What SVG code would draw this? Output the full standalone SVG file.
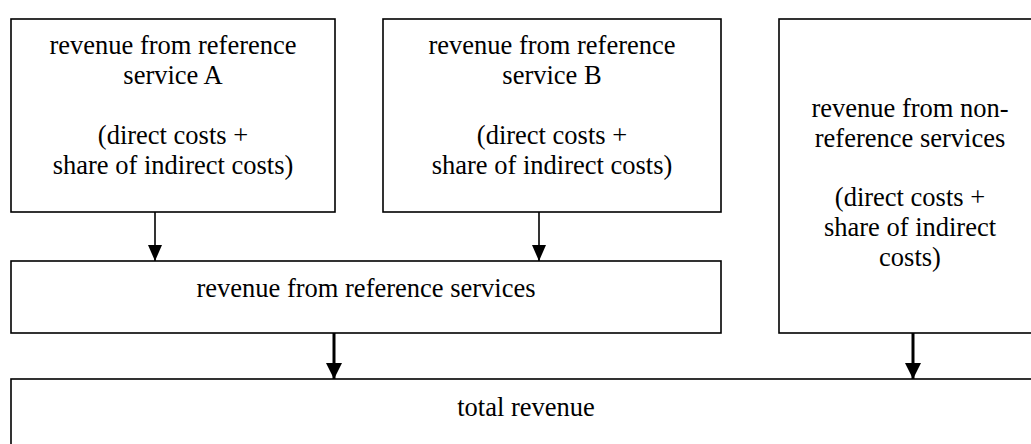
<svg xmlns="http://www.w3.org/2000/svg" width="1031" height="444" viewBox="0 0 1031 444">
  <style>
    .box { fill: #fff; stroke: #000; stroke-width: 1.6; }
    .lbl { font-family: "Liberation Serif", "Times New Roman", serif; font-size: 26.5px; fill: #000; text-anchor: middle; }
    .thin { stroke: #000; stroke-width: 1.6; fill: none; }
    .thick { stroke: #000; stroke-width: 3; fill: none; }
  </style>
  <defs>
    <marker id="ahThin" markerUnits="userSpaceOnUse" markerWidth="16" markerHeight="14" refX="16" refY="7" orient="auto">
      <path d="M0,0 L16,7 L0,14 z" fill="#000"/>
    </marker>
    <marker id="ahThick" markerUnits="userSpaceOnUse" markerWidth="16" markerHeight="16" refX="16" refY="8" orient="auto">
      <path d="M0,0 L16,8 L0,16 z" fill="#000"/>
    </marker>
  </defs>

  <g id="node-service-a">
    <rect class="box" x="11" y="19" width="324" height="193"/>
    <text class="lbl" x="173" y="54">revenue from reference</text>
    <text class="lbl" x="173" y="84">service A</text>
    <text class="lbl" x="173" y="144">(direct costs +</text>
    <text class="lbl" x="173" y="174">share of indirect costs)</text>
  </g>

  <g id="node-service-b">
    <rect class="box" x="383" y="19" width="338" height="193"/>
    <text class="lbl" x="552" y="54">revenue from reference</text>
    <text class="lbl" x="552" y="84">service B</text>
    <text class="lbl" x="552" y="144">(direct costs +</text>
    <text class="lbl" x="552" y="174">share of indirect costs)</text>
  </g>

  <g id="node-non-reference">
    <rect class="box" x="779" y="19" width="262" height="314"/>
    <text class="lbl" x="910" y="117">revenue from non-</text>
    <text class="lbl" x="910" y="147">reference services</text>
    <text class="lbl" x="910" y="206">(direct costs +</text>
    <text class="lbl" x="910" y="236">share of indirect</text>
    <text class="lbl" x="910" y="266">costs)</text>
  </g>

  <g id="node-reference-services">
    <rect class="box" x="11" y="261" width="710" height="72"/>
    <text class="lbl" x="366" y="297">revenue from reference services</text>
  </g>

  <g id="node-total">
    <rect class="box" x="11" y="379" width="1030" height="90"/>
    <text class="lbl" x="526" y="416">total revenue</text>
  </g>

  <g id="connectors">
    <line class="thin" x1="155" y1="212" x2="155" y2="261" marker-end="url(#ahThin)"/>
    <line class="thin" x1="539" y1="212" x2="539" y2="261" marker-end="url(#ahThin)"/>
    <line class="thick" x1="334" y1="333" x2="334" y2="379" marker-end="url(#ahThick)"/>
    <line class="thick" x1="913" y1="333" x2="913" y2="379" marker-end="url(#ahThick)"/>
  </g>
</svg>
